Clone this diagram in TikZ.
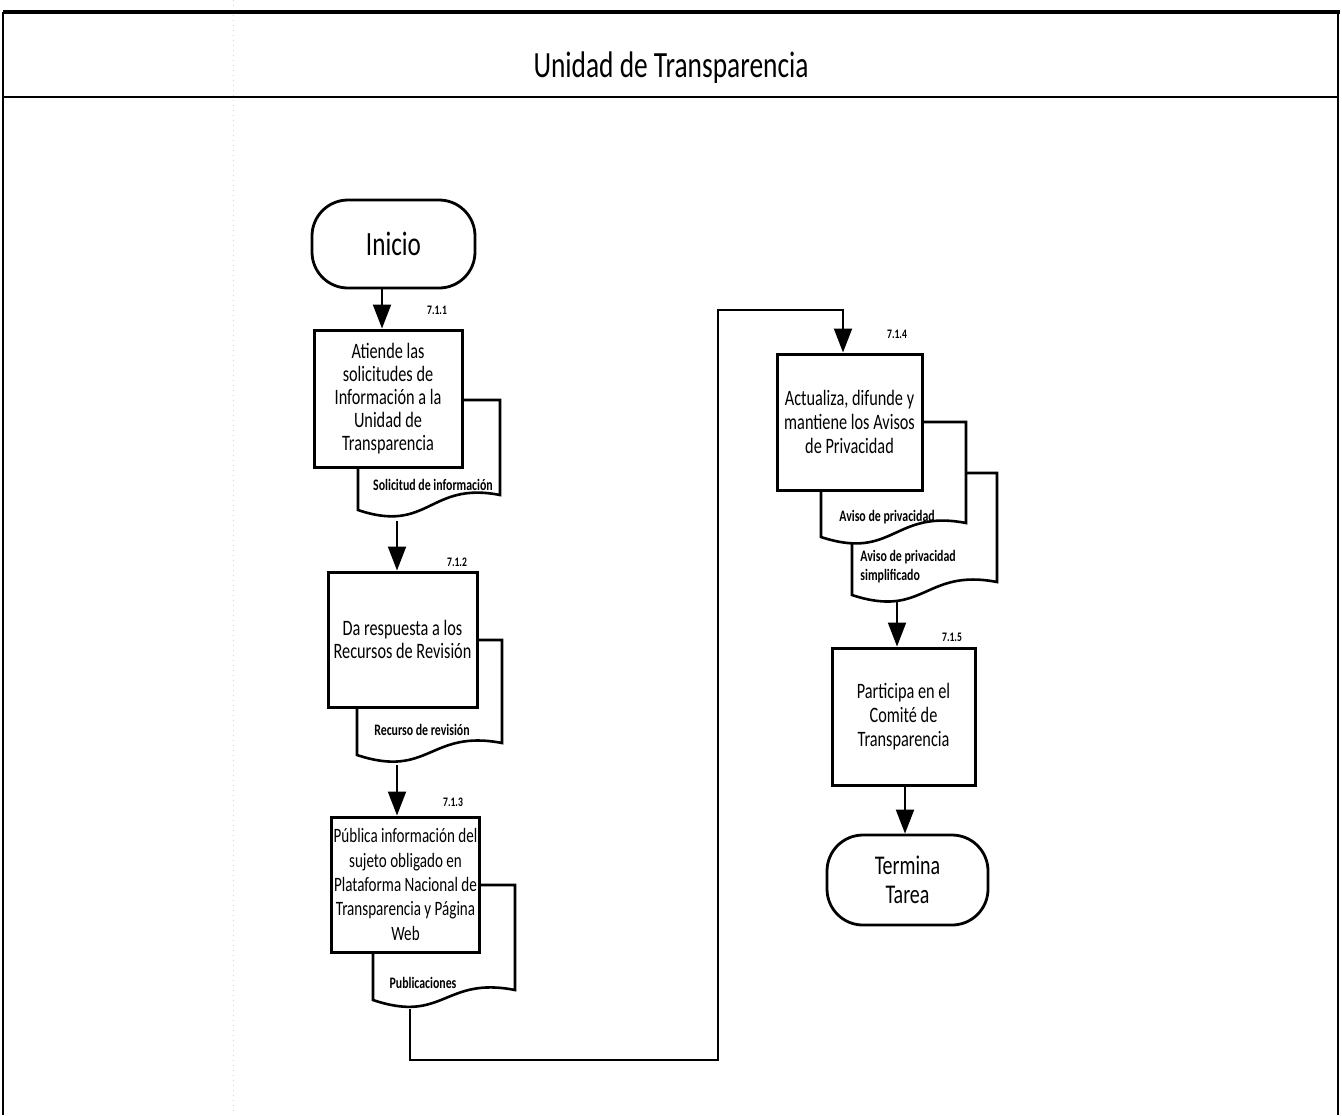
\documentclass[tikz,border=0pt]{standalone}
\usepackage{fontspec}
\setmainfont{Carlito}[FakeStretch=0.74]
\usetikzlibrary{arrows.meta}
\tikzset{
 box/.style={draw, line width=1.5pt, fill=white, align=center, inner sep=1pt, font=\fontsize{11}{11.5}\selectfont},
 term/.style={draw, line width=1.4pt, rounded corners=18pt, fill=white, align=center},
 doc/.style={draw, line width=1.3pt, fill=white},
 lab/.style={font=\bfseries\fontsize{6.5}{7}\selectfont, inner sep=0pt},
 dlab/.style={font=\bfseries\fontsize{8}{9.5}\selectfont, inner sep=0pt, align=left},
 arr/.style={line width=1pt, -{Triangle[length=12pt,width=9pt]}},
 frame/.style={line width=0.9pt},
}
\newcommand\docsh[5]{%
 \draw[doc] (#1,#3) -- (#2,#3) -- (#2,#5) .. controls ({#1+0.5*(#2-#1)},{#5-14}) and ({#1+0.5*(#2-#1)},{#4+24}) .. (#1,#4) -- cycle;}
\begin{document}
\begin{tikzpicture}[x=0.5pt,y=-0.5pt]
\useasboundingbox (0,0) rectangle (1342,1115);
% frame
\draw[gray!35, dotted, line width=0.5pt] (233,0) -- (233,1115);
\draw[line width=2pt] (3,12) -- (1340,12);
\draw[frame] (3,12) -- (3,1115);
\draw[frame] (1338,12) -- (1338,1115);
\draw[line width=1.2pt] (3,97) -- (1338,97);
\node (title) at (671,68) {\fontsize{18.5}{20}\selectfont Unidad de Transparencia};

% start
\node[term, minimum width=81.5pt, minimum height=44pt, font=\fontsize{17}{18}\selectfont] (ini) at (393.5,244) {Inicio};

% step 1
\docsh{358}{500}{400}{510}{495}
\node[box, minimum width=74pt, minimum height=68.5pt] (b1) at (388,398.5) {Atiende las\\solicitudes de\\Información a la\\Unidad de\\Transparencia};
\node[dlab] (d1t) at (433,485) {Solicitud de información};
\node[lab] (n1) at (437,310) {7.1.1};
\coordinate (d1b) at (397,521);

% step 2
\docsh{357}{502}{640}{755}{743}
\node[box, minimum width=74.5pt, minimum height=67.5pt] (b2) at (402.5,639.5) {Da respuesta a los\\Recursos de Revisión};
\node[dlab] (d2t) at (422,730) {Recurso de revisión};
\node[lab] (n2) at (457,562) {7.1.2};
\coordinate (d2b) at (397,765);

% step 3
\docsh{373}{515}{885}{1000}{990}
\node[box, minimum width=72.5pt, minimum height=67.5pt, font=\fontsize{10.2}{12.2}\selectfont] (b3) at (405.5,884.5) {Pública información del\\sujeto obligado en\\Plataforma Nacional de\\Transparencia y Página\\Web};
\node[dlab] (d3t) at (423,983) {Publicaciones};
\node[lab] (n3) at (453,802) {7.1.3};
\coordinate (d3b) at (410,1009);

% step 4
\docsh{852}{997}{473}{595}{582}
\docsh{821}{966}{422}{537}{523}
\node[box, minimum width=72.5pt, minimum height=68pt, font=\fontsize{11}{12}\selectfont] (b4) at (849.5,422) {Actualiza, difunde y\\mantiene los Avisos\\de Privacidad};
\node[dlab] (d4t) at (887,517) {Aviso de privacidad};
\node[dlab, anchor=west] (d5t) at (860,567) {Aviso de privacidad\\simplificado};
\node[lab] (n4) at (897,334) {7.1.4};
\coordinate (d4b) at (897,602);

% step 5
\node[box, minimum width=71.5pt, minimum height=68.5pt, font=\fontsize{11}{12}\selectfont] (b5) at (903.5,716.5) {Participa en el\\Comité de\\Transparencia};
\node[lab] (n5) at (952,637) {7.1.5};

% end
\node[term, minimum width=80.5pt, minimum height=45pt, font=\fontsize{13.5}{14.5}\selectfont] (fin) at (907.5,880) {Termina\\Tarea};

% connectors
\draw[arr] (382,0 |- ini.south) -- (382,0 |- b1.north);
\draw[arr] (d1b) -- (d1b |- b2.north);
\draw[arr] (d2b) -- (d2b |- b3.north);
\coordinate (k1) at (718,1060);
\coordinate (k2) at (718,310);
\coordinate (k3) at (843,310);
\draw[arr] (d3b) |- (k1) -- (k2) -- (k3) -- (k3 |- b4.north);
\draw[arr] (d4b) -- (d4b |- b5.north);
\draw[arr] (905,0 |- b5.south) -- (905,0 |- fin.north);
\end{tikzpicture}
\end{document}
